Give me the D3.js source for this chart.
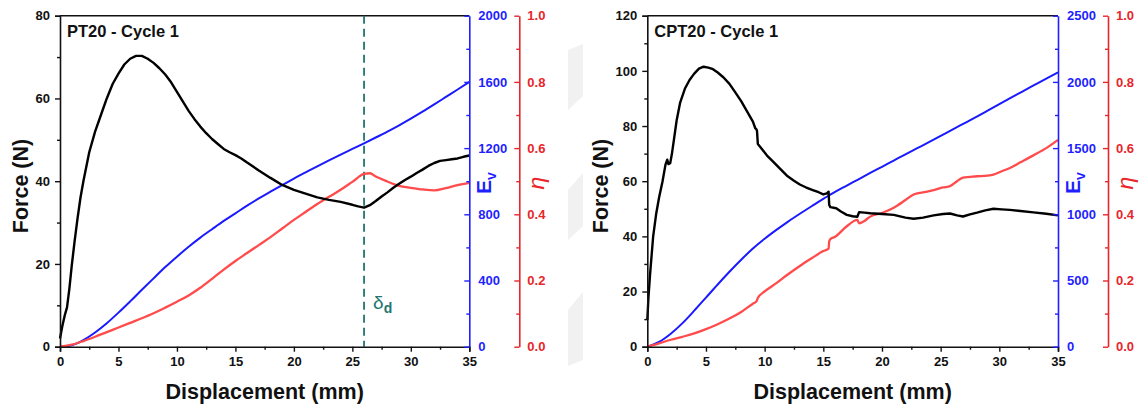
<!DOCTYPE html>
<html>
<head>
<meta charset="utf-8">
<script src="https://cdn.jsdelivr.net/npm/d3@7/dist/d3.min.js"></script>
<style>
  html, body { margin: 0; padding: 0; background: #fff; }
  svg { display: block; }
  text { font-family: "Liberation Sans", Arial, sans-serif; }
</style>
</head>
<body>
<svg id="chart" width="1141" height="408"></svg>
<script>
// ---------------- data ----------------
const xTicks = [0, 5, 10, 15, 20, 25, 30, 35];
const etaTicks = [0, 0.2, 0.4, 0.6, 0.8, 1.0];

// PT20 - Cycle 1
const ptTitle = "PT20 - Cycle 1";
const ptForceTicks = [0, 20, 40, 60, 80];
const ptEvTicks = [0, 400, 800, 1200, 1600, 2000];
const ptForceDisp = [0, 0.2, 0.4, 0.6, 0.8, 1.0, 1.25, 1.5, 1.75, 2.0, 2.5, 3, 3.5, 4, 4.5, 5, 5.5, 6, 6.5, 7, 7.5, 8, 8.5, 9, 9.5, 10, 10.5, 11, 11.5, 12, 12.5, 13, 13.5, 14, 14.5, 15, 15.5, 16, 17, 18, 19, 20, 21, 22, 23, 24, 25, 25.5, 26, 26.5, 27, 27.5, 28, 28.5, 29, 29.5, 30, 30.5, 31, 31.5, 32, 32.5, 33, 33.5, 34, 34.5, 35];
const ptForce = [2.0, 5, 7.5, 9.5, 14, 19.5, 25.5, 31, 36, 40, 47, 52, 56, 60, 63.5, 66, 68.2, 69.6, 70.3, 70.3, 69.6, 68.6, 67.3, 65.8, 63.9, 61.6, 59.3, 57, 55, 53.2, 51.6, 50.2, 49, 47.8, 47, 46.3, 45.5, 44.5, 42.6, 40.8, 39.1, 37.9, 37, 36.1, 35.5, 35, 34.3, 33.9, 33.6, 34.2, 35.2, 36.3, 37.3, 38.4, 39.4, 40.3, 41.1, 42, 42.8, 43.7, 44.4, 44.9, 45.1, 45.3, 45.5, 45.9, 46.2];
const ptEvDisp = [0, 0.5, 1, 1.5, 2, 3, 4, 5, 6, 7, 8, 9, 10, 11, 12, 13, 14, 15, 16, 17, 18, 19, 20, 21, 22, 23, 24, 25, 26, 27, 28, 29, 30, 31, 32, 33, 34, 35];
const ptEv = [0, 3, 9, 22, 40, 86, 142, 206, 274, 344, 413, 481, 544, 604, 659, 710, 760, 806, 852, 896, 937, 977, 1016, 1053, 1090, 1126, 1161, 1195, 1229, 1264, 1300, 1338, 1378, 1420, 1464, 1509, 1554, 1600];
const ptEtaDisp = [0, 1, 2, 3, 4, 5, 6, 7, 8, 9, 10, 11, 12, 13, 14, 15, 16, 17, 18, 19, 20, 21, 22, 23, 24, 25, 26, 26.5, 27, 28, 29, 30, 31, 32, 33, 34, 35];
const ptEta = [0, 0.006, 0.017, 0.03, 0.044, 0.058, 0.072, 0.086, 0.101, 0.118, 0.136, 0.155, 0.178, 0.205, 0.233, 0.259, 0.283, 0.307, 0.331, 0.357, 0.383, 0.407, 0.431, 0.453, 0.474, 0.498, 0.522, 0.524, 0.514, 0.499, 0.486, 0.48, 0.475, 0.472, 0.479, 0.488, 0.495];
const ptDeltaD = 26;

// CPT20 - Cycle 1
const cptTitle = "CPT20 - Cycle 1";
const cptForceTicks = [0, 20, 40, 60, 80, 100, 120];
const cptEvTicks = [0, 500, 1000, 1500, 2000, 2500];
const cptForceDisp = [0, 0.1, 0.25, 0.5, 0.75, 1.0, 1.3, 1.55, 1.7, 1.8, 1.95, 2.1, 2.3, 2.5, 2.8, 3.2, 3.6, 4.0, 4.4, 4.8, 5.2, 5.6, 6.0, 6.5, 7.0, 7.5, 8.0, 8.5, 9.0, 9.2, 9.3, 9.35, 9.42, 9.8, 10.2, 10.7, 11.2, 11.9, 12.5, 13.0, 13.5, 14.1, 14.6, 15.0, 15.3, 15.45, 15.5, 15.6, 16.1, 16.5, 17.0, 17.5, 17.9, 18.05, 18.5, 19.0, 20.0, 21.0, 22.0, 22.7, 23.5, 24.4, 25.2, 25.8, 26.4, 26.9, 27.5, 28.1, 28.8, 29.5, 30.2, 30.9, 31.8, 32.9, 34.0, 35.0];
const cptForce = [9.7, 18, 27, 40, 48, 54, 60, 66, 67.8, 66.2, 66.5, 70, 76, 82, 88.5, 93.5, 96.7, 99, 100.8, 101.5, 101.2, 100.6, 99.4, 97.6, 95.3, 92.2, 89, 85.3, 81.6, 79.2, 78.8, 78.2, 73.5, 71.5, 69.3, 67.2, 65, 62, 60.2, 58.8, 57.8, 56.8, 56, 55.2, 55.6, 56.2, 51.5, 50.6, 50.2, 49, 47.8, 47.3, 47.1, 48.8, 48.6, 48.4, 48.1, 47.8, 46.8, 46.4, 46.8, 47.6, 48.1, 48.3, 47.6, 47.2, 48, 48.6, 49.4, 50, 49.8, 49.6, 49.2, 48.7, 48.2, 47.6];
const cptEvDisp = [0, 1, 2, 3, 4, 5, 6, 7, 8, 9, 10, 11, 12, 13, 14, 15, 15.5, 16, 17, 18, 19, 20, 21, 22, 23, 24, 25, 26, 27, 28, 29, 30, 31, 32, 33, 34, 35];
const cptEv = [0, 36, 98, 178, 272, 371, 470, 566, 657, 741, 815, 882, 945, 1004, 1061, 1117, 1143, 1169, 1217, 1264, 1312, 1359, 1406, 1453, 1499, 1545, 1592, 1640, 1687, 1734, 1783, 1832, 1881, 1929, 1977, 2025, 2072];
const cptEtaDisp = [0, 1, 2, 3, 4, 5, 6, 7, 8, 9, 9.3, 9.42, 10, 11, 12, 13, 14, 15, 15.45, 15.5, 15.6, 16, 17, 17.9, 18.05, 18.5, 19, 20, 21, 22, 22.7, 23.5, 24.4, 25.2, 25.8, 26.4, 26.9, 27.5, 28.1, 28.8, 29.5, 30.2, 30.9, 31.8, 32.9, 34, 35];
const cptEta = [0, 0.01, 0.021, 0.03, 0.04, 0.053, 0.068, 0.085, 0.105, 0.13, 0.137, 0.147, 0.167, 0.192, 0.219, 0.244, 0.267, 0.289, 0.296, 0.318, 0.325, 0.332, 0.364, 0.383, 0.373, 0.38, 0.393, 0.404, 0.42, 0.443, 0.46, 0.466, 0.473, 0.481, 0.485, 0.5, 0.511, 0.513, 0.515, 0.516, 0.52, 0.53, 0.54, 0.557, 0.578, 0.6, 0.625];

// ---------------- drawing ----------------
const svg = d3.select("#chart");
const COL = { black: "#111", blue: "#1f1fff", blueLine: "#1a1aff", red: "#e8262b", redLine: "#ff4b4b", teal: "#237570" };

// faint background watermark between panels
svg.append("g").attr("fill", "#f1f1f1")
  .selectAll("path")
  .data(["M568,50L583,44L583,96L568,110Z", "M568,190L583,173L583,226L568,240Z", "M568,310L583,292L583,360L568,366Z"])
  .join("path").attr("d", d => d);

function minorVals(ticks) {
  const out = [];
  for (let i = 0; i < ticks.length - 1; i++) out.push((ticks[i] + ticks[i + 1]) / 2);
  return out;
}

function styleAxis(g, color, fs) {
  g.select(".domain").attr("stroke", color).attr("stroke-width", 1.6);
  g.selectAll(".tick line").attr("stroke", color).attr("stroke-width", 1.4);
  g.selectAll(".tick text").attr("fill", color).attr("font-size", fs).attr("font-weight", "bold")
    .attr("font-family", "'Liberation Sans', Arial, sans-serif");
}

function drawPanel(p) {
  const top = 15.7, bottom = 346.7;
  const x = d3.scaleLinear().domain([0, 35]).range([p.x0, p.x1]);
  const yF = d3.scaleLinear().domain([0, p.forceTicks[p.forceTicks.length - 1]]).range([bottom, top]);
  const yE = d3.scaleLinear().domain([0, p.evTicks[p.evTicks.length - 1]]).range([bottom, top]);
  const yEta = d3.scaleLinear().domain([0, 1]).range([bottom, top]);
  const g = svg.append("g");
  const redX = p.x1 + 50;

  // top frame line
  g.append("line").attr("x1", p.x0).attr("x2", p.x1).attr("y1", top).attr("y2", top)
    .attr("stroke", COL.black).attr("stroke-width", 1.6);

  // dashed marker
  if (p.delta != null) {
    g.append("line").attr("x1", x(p.delta)).attr("x2", x(p.delta)).attr("y1", top).attr("y2", bottom)
      .attr("stroke", COL.teal).attr("stroke-width", 1.8).attr("stroke-dasharray", "8,5");
    const t = g.append("text").attr("x", x(p.delta) + 9).attr("y", 309)
      .attr("fill", COL.teal).attr("font-size", 19);
    t.append("tspan").text("δ");
    t.append("tspan").attr("font-size", 14).attr("font-weight", "bold").attr("dy", 4).text("d");
  }

  // curves
  const lineE = d3.line().x(d => x(d[0])).y(d => yE(d[1])).curve(d3.curveMonotoneX);
  const lineEta = d3.line().x(d => x(d[0])).y(d => yEta(d[1])).curve(d3.curveMonotoneX);
  const lineF = d3.line().x(d => x(d[0])).y(d => yF(d[1]));
  g.append("path").datum(d3.zip(p.evDisp, p.ev)).attr("d", lineE)
    .attr("fill", "none").attr("stroke", COL.blueLine).attr("stroke-width", 2);
  g.append("path").datum(d3.zip(p.etaDisp, p.eta)).attr("d", lineEta)
    .attr("fill", "none").attr("stroke", COL.redLine).attr("stroke-width", 2.3).attr("stroke-linejoin", "round");
  g.append("path").datum(d3.zip(p.forceDisp, p.force)).attr("d", lineF)
    .attr("fill", "none").attr("stroke", "#000").attr("stroke-width", 2.4).attr("stroke-linejoin", "round");

  // bottom axis
  const fs = 13;
  const gx = g.append("g").attr("transform", `translate(0,${bottom})`)
    .call(d3.axisBottom(x).tickValues(xTicks).tickSize(5).tickPadding(5).tickFormat(d3.format("d")));
  styleAxis(gx, COL.black, fs);
  const gxm = g.append("g").attr("transform", `translate(0,${bottom})`)
    .call(d3.axisBottom(x).tickValues(minorVals(xTicks)).tickSize(3).tickFormat(""));
  styleAxis(gxm, COL.black, fs); gxm.select(".domain").remove();

  // left force axis
  const gy = g.append("g").attr("transform", `translate(${p.x0},0)`)
    .call(d3.axisLeft(yF).tickValues(p.forceTicks).tickSize(5).tickPadding(5).tickFormat(d3.format("d")));
  styleAxis(gy, COL.black, fs);
  const gym = g.append("g").attr("transform", `translate(${p.x0},0)`)
    .call(d3.axisLeft(yF).tickValues(minorVals(p.forceTicks)).tickSize(3).tickFormat(""));
  styleAxis(gym, COL.black, fs); gym.select(".domain").remove();

  // blue Ev axis (ticks inward, labels right)
  const ge = g.append("g").attr("transform", `translate(${p.x1},0)`)
    .call(d3.axisRight(yE).tickValues(p.evTicks).tickSizeInner(-5).tickSizeOuter(0).tickPadding(9).tickFormat(d3.format("d")));
  styleAxis(ge, COL.blue, fs);
  const gem = g.append("g").attr("transform", `translate(${p.x1},0)`)
    .call(d3.axisRight(yE).tickValues(minorVals(p.evTicks)).tickSizeInner(-3).tickSizeOuter(0).tickFormat(""));
  styleAxis(gem, COL.blue, fs); gem.select(".domain").remove();

  // red eta axis (offset)
  const gr = g.append("g").attr("transform", `translate(${redX},0)`)
    .call(d3.axisRight(yEta).tickValues(etaTicks).tickSizeInner(-5).tickSizeOuter(0).tickPadding(8).tickFormat(d3.format(".1f")));
  styleAxis(gr, COL.red, fs);
  const grm = g.append("g").attr("transform", `translate(${redX},0)`)
    .call(d3.axisRight(yEta).tickValues(minorVals(etaTicks)).tickSizeInner(-3).tickSizeOuter(0).tickFormat(""));
  styleAxis(grm, COL.red, fs); grm.select(".domain").remove();

  // titles & axis labels
  g.append("text").attr("x", p.x0 + 7).attr("y", 37).attr("font-size", 16.5).attr("font-weight", "bold")
    .attr("fill", COL.black).text(p.title);
  g.append("text").attr("x", (p.x0 + p.x1) / 2).attr("y", 399).attr("text-anchor", "middle")
    .attr("font-size", 21.5).attr("font-weight", "bold").attr("fill", COL.black).text("Displacement (mm)");
  g.append("text").attr("transform", `translate(${p.forceLabelX},186) rotate(-90)`).attr("text-anchor", "middle")
    .attr("dy", "0.36em").attr("font-size", 21.5).attr("font-weight", "bold").attr("fill", COL.black).text("Force (N)");
  const ev = g.append("text").attr("transform", `translate(${p.x1 + 14},183) rotate(-90)`).attr("text-anchor", "middle")
    .attr("dy", "0.36em").attr("font-size", 21).attr("font-weight", "bold").attr("fill", COL.blue);
  ev.append("tspan").text("E");
  ev.append("tspan").attr("font-size", 14).attr("dy", 5).text("v");
  g.append("text").attr("transform", `translate(${redX + 18},183) rotate(-90)`).attr("text-anchor", "middle")
    .attr("dy", "0.3em").attr("font-size", 23).attr("font-style", "italic").attr("fill", COL.red).text("η");
}

drawPanel({
  x0: 60, x1: 469.3, forceLabelX: 20, title: ptTitle,
  forceTicks: ptForceTicks, evTicks: ptEvTicks,
  forceDisp: ptForceDisp, force: ptForce, evDisp: ptEvDisp, ev: ptEv, etaDisp: ptEtaDisp, eta: ptEta,
  delta: ptDeltaD
});
drawPanel({
  x0: 647.3, x1: 1058, forceLabelX: 600, title: cptTitle,
  forceTicks: cptForceTicks, evTicks: cptEvTicks,
  forceDisp: cptForceDisp, force: cptForce, evDisp: cptEvDisp, ev: cptEv, etaDisp: cptEtaDisp, eta: cptEta,
  delta: null
});
</script>
</body>
</html>
